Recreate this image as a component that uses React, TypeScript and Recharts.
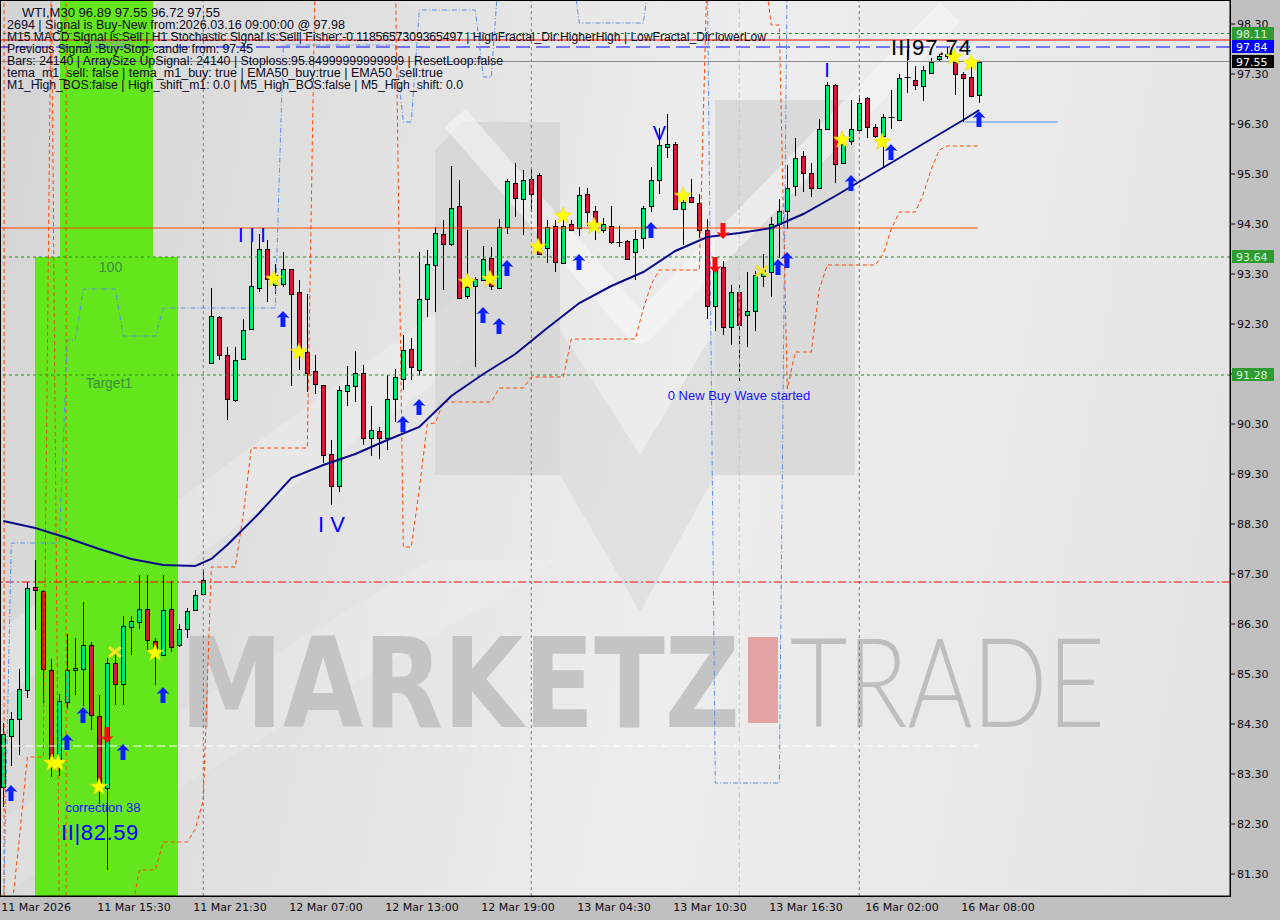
import React from 'react';
import { ComposedChart, Bar, Line, Scatter, XAxis, YAxis, ReferenceLine, ReferenceArea } from 'recharts';

// WTI M30 candles
const opens = [83.04, 84.07, 84.41, 84.98, 87.04, 86.96, 85.39, 83.59, 84.75, 85.37,
  85.41, 85.87, 84.47, 83.01, 85.51, 85.11, 86.23, 86.35, 86.61, 85.96,
  85.69, 86.59, 85.87, 86.21, 86.58, 86.91, 91.51, 92.43, 91.68, 90.78,
  91.61, 92.21, 93.03, 93.81, 93.08, 93.11, 93.41, 92.93, 91.73, 91.36,
  91.08, 89.71, 89.07, 90.97, 91.07, 91.33, 90.01, 90.16, 90.03, 90.79,
  91.21, 91.81, 91.38, 92.79, 93.49, 94.11, 93.90, 94.66, 92.86, 93.07,
  93.19, 93.63, 93.03, 94.23, 95.13, 94.81, 95.21, 95.28, 93.83, 94.26,
  93.53, 94.29, 94.23, 94.91, 94.56, 94.18, 94.26, 93.93, 93.96, 93.75,
  94.01, 94.65, 95.18, 95.85, 95.91, 94.61, 94.85, 94.73, 94.19, 92.65,
  93.45, 92.23, 92.94, 92.48, 92.57, 93.26, 93.35, 94.30, 94.56, 95.06,
  95.65, 95.33, 95.01, 96.21, 97.08, 95.51, 95.97, 96.19, 96.83, 96.25,
  96.06, 96.43, 96.38, 97.25, 97.19, 97.06, 97.33, 97.60, 97.66, 97.55,
  97.30, 97.25, 96.89];
const highs = [84.32, 84.55, 85.41, 87.14, 87.58, 86.98, 85.61, 84.91, 86.10, 86.03,
  86.75, 85.93, 84.89, 85.63, 85.71, 86.45, 86.47, 87.28, 87.28, 86.01,
  87.28, 87.15, 86.30, 86.63, 86.98, 87.41, 93.01, 92.46, 91.85, 91.85,
  92.40, 93.95, 94.11, 93.99, 93.50, 93.75, 93.41, 93.19, 92.90, 91.68,
  91.08, 89.98, 91.06, 91.47, 91.76, 91.48, 90.66, 90.25, 91.28, 91.40,
  92.08, 92.01, 93.75, 93.78, 94.23, 94.38, 95.46, 95.19, 94.19, 93.23,
  93.86, 93.85, 94.40, 95.21, 95.51, 95.38, 95.41, 95.33, 94.38, 94.38,
  94.48, 94.37, 95.05, 95.03, 94.65, 94.42, 94.66, 94.26, 93.98, 94.18,
  94.66, 95.45, 96.22, 96.50, 95.95, 94.88, 95.20, 94.90, 94.41, 93.51,
  93.56, 93.08, 93.08, 93.35, 93.37, 93.70, 94.43, 94.81, 95.48, 96.01,
  95.77, 95.51, 96.41, 97.14, 97.10, 96.08, 96.78, 96.88, 96.85, 96.30,
  96.51, 96.98, 97.31, 97.78, 97.46, 97.46, 97.62, 97.71, 97.84, 97.71,
  97.35, 97.52, 97.55];
const lows = [82.64, 83.45, 83.68, 84.82, 86.18, 84.72, 83.23, 83.26, 84.59, 84.88,
  84.65, 84.18, 82.71, 81.38, 84.68, 84.68, 85.68, 86.21, 85.78, 85.08,
  85.69, 85.75, 85.84, 86.03, 86.58, 86.91, 91.51, 91.58, 90.38, 90.75,
  91.61, 92.21, 92.93, 92.75, 92.90, 93.05, 91.07, 91.38, 90.93, 90.90,
  89.53, 88.69, 88.93, 90.67, 90.75, 89.87, 89.65, 89.59, 89.78, 90.35,
  90.98, 91.18, 91.28, 92.45, 92.55, 92.98, 93.86, 92.79, 92.81, 91.45,
  93.18, 92.99, 93.00, 94.11, 94.43, 94.09, 94.55, 93.68, 93.53, 93.35,
  93.53, 94.17, 94.06, 94.26, 93.98, 94.12, 93.91, 93.85, 93.59, 93.18,
  93.79, 94.55, 94.90, 95.63, 94.60, 93.88, 94.72, 94.01, 92.41, 92.15,
  92.08, 91.88, 91.16, 91.85, 92.15, 93.05, 92.85, 93.63, 94.21, 94.86,
  94.95, 94.85, 95.01, 96.18, 95.13, 95.50, 95.88, 96.19, 96.01, 96.01,
  95.45, 96.21, 96.38, 96.92, 96.99, 96.77, 97.33, 97.55, 97.60, 96.88,
  96.35, 96.84, 96.72];
const closes = [84.10, 84.41, 85.00, 87.03, 86.99, 85.41, 83.59, 84.76, 85.39, 85.42,
  85.89, 84.49, 83.01, 85.53, 85.09, 86.26, 86.36, 86.61, 85.98, 85.81,
  86.59, 85.85, 86.21, 86.56, 86.89, 87.19, 92.46, 91.68, 90.79, 91.59,
  92.19, 93.06, 93.79, 93.21, 93.28, 93.41, 92.91, 91.71, 91.33, 91.09,
  89.69, 89.07, 90.99, 91.08, 91.33, 90.03, 90.18, 90.03, 90.79, 91.23,
  91.78, 91.43, 92.81, 93.50, 94.13, 93.91, 94.63, 92.83, 93.05, 93.21,
  93.60, 93.06, 94.25, 95.16, 94.83, 95.19, 94.91, 93.71, 94.23, 93.55,
  94.26, 94.19, 94.89, 94.55, 94.35, 94.29, 93.95, 93.92, 93.61, 94.00,
  94.63, 95.18, 95.88, 95.91, 94.61, 94.75, 94.75, 94.19, 92.65, 93.38,
  92.25, 92.93, 92.28, 92.57, 93.28, 93.37, 94.31, 94.56, 95.03, 95.63,
  95.33, 95.01, 96.21, 97.08, 95.50, 95.90, 96.21, 96.73, 96.23, 96.06,
  96.45, 96.43, 97.23, 97.25, 97.09, 97.39, 97.55, 97.65, 97.70, 97.29,
  97.23, 96.86, 97.55];

// EMA50 read at every 4th bar or so
const emaIdx = [0, 4, 8, 12, 16, 20, 24, 26, 28, 32, 36, 40, 44, 48, 52, 56, 60, 64, 68, 72, 76, 80, 84, 88, 92, 96, 100, 104, 108, 112, 116, 120, 122];
const emaVals = [88.36, 88.22, 88.02, 87.80, 87.60, 87.48, 87.46, 87.60, 87.88, 88.52, 89.22, 89.48, 89.70, 89.98, 90.24, 90.86, 91.30, 91.70, 92.22, 92.72, 93.06, 93.34, 93.76, 94.04, 94.12, 94.22, 94.50, 94.86, 95.24, 95.62, 96.00, 96.38, 96.58];

// trailing stop (orange dashed); 99.5 / 80.5 = off the chart
const stopVals = [null, 80.5, 82.0, 83.64, 83.64, 83.64, 99.5, 80.5, 80.5, 80.5,
  80.5, 80.5, 80.5, 80.5, 80.5, 80.5, 80.5, 81.38, 81.38, 81.38,
  81.94, 81.94, 81.94, 81.94, 82.2, 82.78, 87.44, 87.44, 87.44, 87.44,
  88.5, 89.82, 89.82, 89.82, 89.82, 89.82, 89.82, 89.82, 89.82, 99.5,
  99.5, 99.5, 99.5, 99.5, 99.5, 99.5, 99.5, 99.5, 99.5, 99.5,
  87.84, 87.84, 89.0, 90.3, 90.32, 90.74, 90.74, 90.74, 90.74, 90.74,
  90.74, 90.74, 91.02, 91.02, 91.02, 91.02, 91.24, 91.24, 91.24, 91.24,
  91.24, 92.0, 92.0, 92.0, 92.0, 92.0, 92.0, 92.0, 92.0, 92.0,
  92.6, 93.1, 93.38, 93.38, 93.38, 93.38, 93.38, 93.38, 99.5, 99.5,
  99.5, 99.5, 99.5, 99.5, 99.5, 99.5, 98.28, 98.28, 91.0, 91.74,
  91.74, 91.74, 93.0, 93.48, 93.48, 93.48, 93.48, 93.48, 93.48, 93.48,
  93.7, 94.2, 94.54, 94.54, 94.54, 94.9, 95.4, 95.78, 95.86, 95.86,
  95.86, 95.86, 95.86];

// fractal channel (blue dash-dot)
const bandVals = [80.5, 87.92, 87.92, 87.92, 87.92, 87.92, 87.92, 87.92, 91.98, 91.98,
  93.0, 93.0, 93.0, 93.0, 93.0, 92.06, 92.06, 92.06, 92.06, 92.06,
  92.62, 92.62, 92.62, 92.62, 92.62, 92.62, 92.62, 92.62, 92.62, 92.62,
  92.62, 92.62, 92.62, 92.62, 92.62, 97.88, 97.88, 97.88, 97.88, 97.88,
  97.88, 97.88, 97.88, 97.88, 97.88, 97.88, 97.88, 97.88, 97.88, 97.88,
  96.34, 96.34, 98.58, 98.58, 98.58, 98.58, 98.58, 98.58, 98.58, 98.58,
  97.24, 97.24, 99.5, 99.5, 99.5, 99.5, 99.5, 99.5, 99.5, 99.5,
  99.5, 99.5, 98.32, 98.32, 98.32, 98.32, 98.32, 98.32, 98.32, 98.32,
  98.32, 99.5, 99.5, 99.5, 99.5, 99.5, 99.5, 99.5, 99.5, 83.12,
  83.12, 83.12, 83.12, 83.12, 83.12, 83.12, 83.12, 83.12, 99.5, null,
  null, null, null, null, null, null, null, null, null, null,
  null, null, null, null, null, null, null, null, null, null,
  null, null, null];

const timeTicks = [0, 12, 24, 36, 48, 60, 72, 84, 96, 108, 120];
const timeLabels = ['11 Mar 2026', '11 Mar 15:30', '11 Mar 21:30', '12 Mar 07:00', '12 Mar 13:00', '12 Mar 19:00',
  '13 Mar 04:30', '13 Mar 10:30', '13 Mar 16:30', '16 Mar 02:00', '16 Mar 08:00'];
const priceTicks = [81.3, 82.3, 83.3, 84.3, 85.3, 86.3, 87.3, 88.3, 89.3, 90.3, 91.3, 92.3, 93.3, 94.3, 95.3, 96.3, 97.3, 98.3];

// level prices shown as boxes on the price scale
const badgePrices = [98.11, 97.84, 97.55, 93.64, 91.28];

// signal markers [bar, price]
const stars = [[6.09, 83.52], [6.84, 83.52], [11.96, 83.04], [18.96, 85.72], [33.84, 93.2], [36.96, 91.74],
  [57.96, 93.14], [60.84, 93.2], [66.84, 93.84], [69.96, 94.46], [73.84, 94.26], [84.96, 94.86],
  [104.84, 95.98], [109.84, 95.94], [118.84, 97.64], [120.96, 97.52]];
const crosses = [[13.96, 85.74], [94.84, 93.36]];
const upArrows = [[0.96, 82.92], [7.96, 83.94], [9.96, 84.48], [14.96, 83.74], [19.96, 84.88], [34.96, 92.4],
  [49.96, 90.3], [51.96, 90.64], [59.96, 92.48], [61.96, 92.26], [62.96, 93.42], [71.96, 93.54],
  [80.96, 94.18], [96.84, 93.44], [97.96, 93.58], [105.96, 95.12], [110.96, 95.74], [121.96, 96.4]];
const downArrows = [[12.96, 84.08], [88.96, 93.48], [89.96, 94.16]];

// chart annotations
const waveText = ['I I I', 'I V', 'V', 'I'];
const waveIdx = [31.09, 41.02, 82.03, 102.96];
const wavePrice = [93.94, 88.14, 95.98, 97.24];
const noteText = ['correction 38', '0 New Buy Wave started'];
const noteIdx = [12.46, 91.96];
const notePrice = [82.54, 90.78];
const targetText = ['Target2', '100', 'Target1'];
const targetIdx = [13.34, 13.4, 13.21];
const targetPrice = [97.8, 93.34, 91.02];

const infoLines = [
  'WTI,M30  96.89 97.55 96.72 97,55',
  '2694 | Signal is Buy-New from:2026.03.16 09:00:00 @ 97.98',
  'M15 MACD Signal is:Sell | H1 Stochastic Signal is:Sell| Fisher:-0.1185657309365497 | HighFractal_Dir:HigherHigh | LowFractal_Dir:lowerLow',
  'Previous Signal :Buy-Stop-candle from: 97.45',
  'Bars: 24140 | ArraySize UpSignal: 24140 | Stoploss:95.84999999999999 | ResetLoop:false',
  'tema_m1_sell: false | tema_m1_buy: true | EMA50_buy:true | EMA50_sell:true',
  'M1_High_BOS:false | High_shift_m1: 0.0 | M5_High_BOS:false | M5_High_shift: 0.0',
];
const infoWidths = [198, 338, 759, 246, 496, 436, 456];

const candles = opens.map((o, i) => ({
  i, o, h: highs[i], l: lows[i], c: closes[i], range: [lows[i], highs[i]],
  ema: emaIdx.includes(i) ? emaVals[emaIdx.indexOf(i)] : null,
  stop: stopVals[i], band: bandVals[i],
}));
const toPts = (arr: number[][]) => arr.map(([i, p]) => ({ i, p }));
const toLabels = (t: string[], idx: number[], pr: number[]) => t.map((s, k) => ({ i: idx[k], p: pr[k], t: s }));

const MONO = 'DejaVu Sans, sans-serif';
const ARIAL = 'Liberation Sans, Arial, sans-serif';

// plot box, same as the chart margins / axis sizes below
const PLOT_TOP = 1;
const PLOT_H = 895;
const P_MIN = 80.86;
const P_MAX = 98.76;
const yOf = (p: number) => PLOT_TOP + ((P_MAX - p) / (P_MAX - P_MIN)) * PLOT_H;
const badgeStyle = [
  { bg: '#2f9a2f', fg: '#d9f7d9' },
  { bg: '#0000ff', fg: '#ffffff' },
  { bg: '#000000', fg: '#ffffff' },
  { bg: '#2f9a2f', fg: '#d9f7d9' },
  { bg: '#2f9a2f', fg: '#d9f7d9' },
];

function Candle(props: any) {
  const { x, y, width, height, payload } = props;
  if (x == null || !payload) return null;
  const { o, h, l, c } = payload;
  const top = Math.min(y, y + height);
  const hh = Math.abs(height);
  const toY = (v: number) => (h - l > 0 ? top + ((h - v) / (h - l)) * hh : top);
  const px = Math.floor(x + width / 2) + 0.5;
  const bTop = Math.round(toY(Math.max(o, c))) + 0.5;
  const bBot = Math.round(toY(Math.min(o, c))) + 0.5;
  const bull = c >= o;
  return (
    <g>
      <line x1={px} x2={px} y1={Math.round(top)} y2={Math.round(top + hh)} stroke="#000" strokeWidth={1} />
      {bBot - bTop < 1.5 ? (
        <line x1={px - 3} x2={px + 3} y1={bTop} y2={bTop} stroke="#000" strokeWidth={1} />
      ) : (
        <rect x={px - 2} y={bTop} width={4} height={bBot - bTop} fill={bull ? '#00e676' : '#dc143c'} stroke="#000" strokeWidth={1} />
      )}
    </g>
  );
}

function starPath(cx: number, cy: number, r1: number, r2: number) {
  let d = '';
  for (let k = 0; k < 10; k++) {
    const r = k % 2 === 0 ? r1 : r2;
    const a = -Math.PI / 2 + (k * Math.PI) / 5;
    d += (k === 0 ? 'M' : 'L') + (cx + r * Math.cos(a)).toFixed(1) + ',' + (cy + r * Math.sin(a)).toFixed(1);
  }
  return d + 'Z';
}

const StarShape = (p: any) => <path d={starPath(p.cx, p.cy, 9, 3.8)} fill="#ffff00" stroke="#e8d800" strokeWidth={0.6} />;
const CrossShape = (p: any) => (
  <g stroke="#f2e227" strokeWidth={3.2}>
    <line x1={p.cx - 6} y1={p.cy - 5} x2={p.cx + 6} y2={p.cy + 5} />
    <line x1={p.cx - 6} y1={p.cy + 5} x2={p.cx + 6} y2={p.cy - 5} />
  </g>
);
const UpShape = (p: any) => {
  const { cx, cy } = p;
  return <path d={`M${cx},${cy - 8} L${cx + 6.5},${cy - 1} L${cx + 2.5},${cy - 2} L${cx + 2.5},${cy + 8} L${cx - 2.5},${cy + 8} L${cx - 2.5},${cy - 2} L${cx - 6.5},${cy - 1} Z`} fill="#0a1eff" />;
};
const DownShape = (p: any) => {
  const { cx, cy } = p;
  return <path d={`M${cx},${cy + 8} L${cx + 6.5},${cy + 1} L${cx + 2.5},${cy + 2} L${cx + 2.5},${cy - 8} L${cx - 2.5},${cy - 8} L${cx - 2.5},${cy + 2} L${cx - 6.5},${cy + 1} Z`} fill="#ff0a0a" />;
};
const WaveShape = (p: any) => (
  <text x={p.cx} y={p.cy} textAnchor="middle" fontFamily={ARIAL} fontSize={p.payload.t === 'I V' ? 22 : 20} fill="#0000ff">{p.payload.t}</text>
);
const NoteShape = (p: any) => (
  <text x={p.cx} y={p.cy} textAnchor="middle" fontFamily={ARIAL} fontSize={13} fill="#1414ff">{p.payload.t}</text>
);
const TargetShape = (p: any) => (
  <text x={p.cx} y={p.cy} textAnchor="middle" fontFamily={ARIAL} fontSize={14} fill={p.payload.t === 'Target2' ? '#8aa88a' : '#3d8f3d'}>{p.payload.t}</text>
);

function TimeTick(props: any) {
  const { x, payload } = props;
  const k = timeTicks.indexOf(payload.value);
  return (
    <text x={x - 2} y={911} fontSize={11} fontFamily={MONO} fill="#0a0a14">{timeLabels[k]}</text>
  );
}

function Watermark() {
  return (
    <svg width={1280} height={920} style={{ position: 'absolute', left: 0, top: 0 }}>
      <polygon points="0,700 0,630 480,280 480,350" fill="#ffffff" opacity={0.22} />
      <polygon points="0,895 0,820 430,560 560,560" fill="#ffffff" opacity={0.15} />
      <g opacity={0.6}>
        <polygon points="435,150 462,122 560,122 560,475 435,475" fill="#cfcfcf" />
        <polygon points="715,100 855,100 855,475 715,475" fill="#cfcfcf" />
        <polygon points="560,330 640,455 715,330 715,475 640,612 560,475" fill="#d9d9d9" />
      </g>
      <polyline points="455,118 640,330 950,12" stroke="#f7f7f7" strokeWidth={28} fill="none" opacity={0.6} strokeLinejoin="round" />
      <text x={180} y={727} fontFamily={MONO} fontWeight={700} fontSize={124} textLength={560} lengthAdjust="spacingAndGlyphs" fill="#c4c4c4">MARKETZ</text>
      <rect x={748} y={637} width={30} height={86} fill="#e2a4a4" />
      <text x={790} y={727} fontFamily="Lato, Inter, sans-serif" fontWeight={300} fontSize={124} textLength={315} lengthAdjust="spacingAndGlyphs" fill="#bebebe">TRADE</text>
    </svg>
  );
}

export default function App() {
  return (
    <div style={{ position: 'relative', width: 1280, height: 920, background: '#c0c0c0', overflow: 'hidden' }}>
      <style>{'body{margin:0}'}</style>
      <div style={{ position: 'absolute', left: 0, top: 0, width: 1231, height: 897, background: 'linear-gradient(100deg, #d4d4d4 0%, #e2e2e2 30%, #ededed 55%, #e9e9e9 80%, #e3e3e3 100%)' }} />
      <Watermark />
      <div style={{ position: 'absolute', left: 0, top: 0 }}>
        <ComposedChart width={1280} height={920} data={candles} margin={{ top: PLOT_TOP, right: 0, bottom: 0, left: 1 }}>
          <XAxis dataKey="i" type="number" domain={[-0.2875, 153.3375]} allowDataOverflow ticks={timeTicks} interval={0}
            tickLine={false} axisLine={{ stroke: '#000' }} height={24} tick={<TimeTick />} />
          <YAxis orientation="right" type="number" domain={[P_MIN, P_MAX]} allowDataOverflow ticks={priceTicks} interval={0}
            width={50} tickSize={5} tickMargin={2} axisLine={{ stroke: '#000' }} tickLine={{ stroke: '#000' }}
            tick={{ fill: '#0a0a14', fontSize: 11, fontFamily: MONO }} tickFormatter={(v: number) => v.toFixed(2)} />

          <ReferenceArea x1={3.96} x2={21.84} y1={P_MIN} y2={93.64} fill="#63e61b" fillOpacity={1} stroke="none" />
          <ReferenceArea x1={7.09} x2={18.71} y1={93.64} y2={P_MAX} fill="#63e61b" fillOpacity={1} stroke="none" />

          <ReferenceLine x={25} stroke="#7a7a7a" strokeDasharray="3 3" />
          <ReferenceLine x={66} stroke="#7a7a7a" strokeDasharray="3 3" />
          <ReferenceLine x={107} stroke="#7a7a7a" strokeDasharray="3 3" />
          <ReferenceLine x={92} stroke="#9fd6dc" strokeDasharray="6 3 2 3" />
          <ReferenceLine x={0.1} stroke="#ff4500" strokeDasharray="4 3" />
          <ReferenceLine x={7.85} stroke="#ff4500" strokeDasharray="4 3" />

          <ReferenceLine y={98.11} stroke="#2a8a2a" strokeDasharray="3 3" />
          <ReferenceLine y={97.98} stroke="#ff0000" />
          <ReferenceLine y={97.84} stroke="#0000ff" strokeDasharray="14 6" />
          <ReferenceLine y={97.55} stroke="#8c8c8c" />
          <ReferenceLine segment={[{ x: -0.2875, y: 94.22 }, { x: 121.8, y: 94.22 }]} stroke="#ff4500" />
          <ReferenceLine y={93.64} stroke="#2a8a2a" strokeDasharray="3 3" />
          <ReferenceLine y={91.28} stroke="#2a8a2a" strokeDasharray="3 3" />
          <ReferenceLine y={87.14} stroke="#ff0000" strokeDasharray="8 3 2 3" />
          <ReferenceLine segment={[{ x: -0.2875, y: 83.86 }, { x: 121.8, y: 83.86 }]} stroke="#ffffff" strokeDasharray="8 4" />
          <ReferenceLine segment={[{ x: 120.2, y: 96.34 }, { x: 131.8, y: 96.34 }]} stroke="#4a8fe8" />

          <Line dataKey="band" stroke="#5b8fe6" strokeWidth={1} strokeDasharray="5 2 1 2" dot={false} activeDot={false} isAnimationActive={false} />
          <Line dataKey="stop" stroke="#ff4500" strokeWidth={1} strokeDasharray="4 3" dot={false} activeDot={false} isAnimationActive={false} />

          <Bar dataKey="range" barSize={5} shape={<Candle />} isAnimationActive={false} />
          <Line dataKey="ema" stroke="#0a0a8c" strokeWidth={2} dot={false} activeDot={false} connectNulls isAnimationActive={false} />

          <Scatter data={toPts(stars)} dataKey="p" shape={StarShape} isAnimationActive={false} />
          <Scatter data={toPts(crosses)} dataKey="p" shape={CrossShape} isAnimationActive={false} />
          <Scatter data={toPts(upArrows)} dataKey="p" shape={UpShape} isAnimationActive={false} />
          <Scatter data={toPts(downArrows)} dataKey="p" shape={DownShape} isAnimationActive={false} />
          <Scatter data={toLabels(waveText, waveIdx, wavePrice)} dataKey="p" shape={WaveShape} isAnimationActive={false} />
          <Scatter data={toLabels(noteText, noteIdx, notePrice)} dataKey="p" shape={NoteShape} isAnimationActive={false} />
          <Scatter data={toLabels(targetText, targetIdx, targetPrice)} dataKey="p" shape={TargetShape} isAnimationActive={false} />
          <Scatter data={[{ i: 12.09, p: 81.98, t: 'II|82.59' }]} dataKey="p" isAnimationActive={false}
            shape={(p: any) => <text x={p.cx} y={p.cy} textAnchor="middle" fontFamily={ARIAL} fontSize={22} letterSpacing={0.6} fill="#0000ff">{p.payload.t}</text>} />
          <Scatter data={[{ i: 116.03, p: 97.68, t: 'II|97.74' }]} dataKey="p" isAnimationActive={false}
            shape={(p: any) => <text x={p.cx} y={p.cy} textAnchor="middle" fontFamily={ARIAL} fontSize={22} letterSpacing={1} fill="#000000">{p.payload.t}</text>} />
        </ComposedChart>
      </div>
      <svg width={1280} height={920} style={{ position: 'absolute', left: 0, top: 0, pointerEvents: 'none' }}>
        {infoLines.map((t, k) => (
          <text key={k} x={k === 0 ? 22 : 7} y={16.5 + k * 12.1} fontFamily={ARIAL} fontSize={12} fill="#0a0a1e"
            textLength={infoWidths[k]} lengthAdjust="spacingAndGlyphs">{t}</text>
        ))}
        <rect x={0.5} y={0.5} width={1230} height={896} fill="none" stroke="#000" />
        {badgePrices.map((p, k) => (
          <g key={k}>
            <rect x={1232} y={Math.round(yOf(p)) - 7} width={42} height={13} fill={badgeStyle[k].bg} />
            <text x={1236} y={Math.round(yOf(p)) + 4} fill={badgeStyle[k].fg} fontSize={11} fontFamily={MONO}>{p.toFixed(2)}</text>
          </g>
        ))}
      </svg>
    </div>
  );
}
